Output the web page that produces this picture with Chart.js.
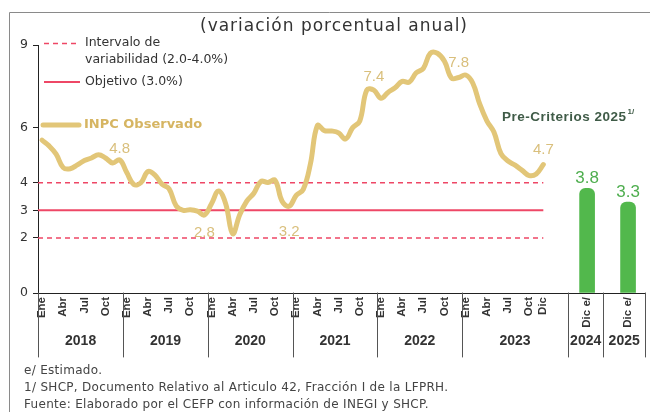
<!DOCTYPE html>
<html>
<head>
<meta charset="utf-8">
<script src="https://cdn.jsdelivr.net/npm/chart.js@4.4.1/dist/chart.umd.min.js"></script>
<style>
  html, body { margin: 0; padding: 0; background: #fff; }
  #wrap { width: 650px; height: 412px; }
</style>
</head>
<body>
<div id="wrap"><canvas id="inpc-chart"></canvas></div>
<script>
// años y meses del eje
const years = ['2018', '2019', '2020', '2021', '2022', '2023'];
const monthNames = ['Ene', 'Feb', 'Mar', 'Abr', 'May', 'Jun', 'Jul', 'Ago', 'Sep', 'Oct', 'Nov', 'Dic'];
const shownMonths = ['Ene', 'Abr', 'Jul', 'Oct'];

// INPC observado, variación anual mensual ene-2018 a dic-2023
const inpc = [
  5.55, 5.34, 5.04, 4.55, 4.51, 4.65, 4.81, 4.90, 5.02, 4.90, 4.72, 4.83,
  4.37, 3.94, 4.00, 4.41, 4.28, 3.95, 3.78, 3.16, 3.00, 3.02, 2.97, 2.83,
  3.24, 3.70, 3.25, 2.15, 2.84, 3.33, 3.62, 4.05, 4.01, 4.09, 3.33, 3.15,
  3.54, 3.76, 4.67, 6.08, 5.89, 5.88, 5.81, 5.59, 6.00, 6.24, 7.37, 7.36,
  7.07, 7.28, 7.45, 7.68, 7.65, 7.99, 8.15, 8.70, 8.70, 8.41, 7.80, 7.82,
  7.91, 7.62, 6.85, 6.25, 5.84, 5.06, 4.79, 4.64, 4.45, 4.26, 4.32, 4.66
];
// etiquetas de cierre de cada año
const decLabels = ['4.8', '2.8', '3.2', '7.4', '7.8', '4.7'];

// Pre-Criterios 2025
const forecastYears = ['2024', '2025'];
const forecastTicks = ['Dic e/', 'Dic e/'];
const forecast = [3.8, 3.3];

// objetivo e intervalo
const band = [2.0, 4.0];
const target = 3.0;
const yTicks = [0, 2, 3, 4, 6, 9];

// layout (unidades del eje x = meses)
const X_MIN = -0.57, X_MAX = 85.4;
const forecastX = [77.2, 83];
const yearEdges = [X_MIN, 11.5, 23.5, 35.5, 47.5, 59.5, 74.5, 79.5, X_MAX];
const labelDy = [-11, 18, 26, -13, -14.5, -14.5];

const lineColor = '#e2c678';
const redColor = '#ee4766';
const greenColor = '#52b84c';

// posiciones de ticks del eje x
const tickPos = [], tickText = [];
years.forEach((y, yi) => {
  monthNames.forEach((m, mi) => {
    const i = yi * 12 + mi;
    if (shownMonths.includes(m) || (yi === years.length - 1 && mi === 11)) {
      tickPos.push(i); tickText.push(m);
    }
  });
});
forecastX.forEach((x, i) => { tickPos.push(x); tickText.push(forecastTicks[i]); });

const lastX = inpc.length - 1;

const extras = {
  id: 'extras',
  afterDraw(chart) {
    const ctx = chart.ctx;
    const xs = chart.scales.x;
    const bottom = chart.chartArea.bottom;
    ctx.save();

    // marco
    ctx.strokeStyle = '#8a8a8a';
    ctx.lineWidth = 1;
    ctx.beginPath();
    ctx.moveTo(9.5, 412); ctx.lineTo(9.5, 12.5); ctx.lineTo(650, 12.5);
    ctx.stroke();

    // título
    ctx.fillStyle = '#333';
    ctx.font = '17px "DejaVu Sans"';
    ctx.letterSpacing = '1px';
    ctx.textAlign = 'center';
    ctx.textBaseline = 'middle';
    ctx.fillText('(variación porcentual anual)', 334, 27);
    ctx.letterSpacing = '0px';

    // leyenda
    ctx.textAlign = 'left';
    ctx.font = '12.5px "DejaVu Sans"';
    ctx.strokeStyle = redColor;
    ctx.lineWidth = 1.5;
    ctx.setLineDash([5, 4]);
    ctx.beginPath(); ctx.moveTo(44, 43.5); ctx.lineTo(80, 43.5); ctx.stroke();
    ctx.setLineDash([]);
    ctx.fillText('Intervalo de', 85, 43);
    ctx.fillText('variabilidad (2.0-4.0%)', 85, 60);
    ctx.lineWidth = 2;
    ctx.beginPath(); ctx.moveTo(44, 82); ctx.lineTo(80, 82); ctx.stroke();
    ctx.fillText('Objetivo (3.0%)', 85, 82);
    ctx.strokeStyle = lineColor;
    ctx.lineWidth = 5;
    ctx.lineCap = 'round';
    ctx.beginPath(); ctx.moveTo(43, 125); ctx.lineTo(79, 125); ctx.stroke();
    ctx.fillStyle = '#d6b562';
    ctx.font = 'bold 13px "DejaVu Sans"';
    ctx.fillText('INPC Observado', 84, 125);

    // etiquetas de diciembre
    const pts = chart.getDatasetMeta(0).data;
    ctx.font = '15px "Liberation Sans"';
    ctx.fillStyle = '#d9bf7c';
    ctx.textAlign = 'center';
    decLabels.forEach((t, i) => {
      const p = pts[i * 12 + 11];
      ctx.fillText(t, p.x, p.y + labelDy[i]);
    });

    // etiquetas barras
    const bars = chart.getDatasetMeta(3).data;
    ctx.font = '17px "Liberation Sans"';
    ctx.fillStyle = '#4fae4f';
    bars.forEach((b, i) => ctx.fillText(forecast[i].toFixed(1), b.x, b.y - 10));

    ctx.fillStyle = '#3f5b47';
    ctx.font = 'bold 13.5px "Liberation Sans"';
    ctx.letterSpacing = '0.5px';
    ctx.textAlign = 'left';
    const pc = 'Pre-Criterios 2025';
    ctx.fillText(pc, 502, 117);
    const pcw = ctx.measureText(pc).width;
    ctx.letterSpacing = '0px';
    ctx.font = 'bold 8px "Liberation Sans"';
    ctx.fillText('1/', 503 + pcw, 112);

    // separadores y años
    ctx.strokeStyle = '#555';
    ctx.lineWidth = 1;
    yearEdges.forEach(v => {
      const x = Math.round(xs.getPixelForValue(v)) + 0.5;
      ctx.beginPath(); ctx.moveTo(x, bottom); ctx.lineTo(x, 357); ctx.stroke();
    });
    ctx.fillStyle = '#333';
    ctx.font = 'bold 14px "Liberation Sans"';
    ctx.textAlign = 'center';
    years.concat(forecastYears).forEach((y, i) => {
      const x = (xs.getPixelForValue(yearEdges[i]) + xs.getPixelForValue(yearEdges[i + 1])) / 2;
      ctx.fillText(y, x, 341);
    });

    // notas
    ctx.textAlign = 'left';
    ctx.fillStyle = '#444';
    ctx.font = '12px "DejaVu Sans"';
    ctx.letterSpacing = '0.3px';
    ctx.fillText('e/ Estimado.', 24, 371);
    ctx.fillText('1/ SHCP, Documento Relativo al Articulo 42, Fracción I de la LFPRH.', 24, 388);
    ctx.fillText('Fuente: Elaborado por el CEFP con información de INEGI y SHCP.', 24, 405);
    ctx.restore();
  }
};

new Chart(document.getElementById('inpc-chart'), {
  data: {
    datasets: [
      {
        type: 'line',
        label: 'INPC Observado',
        data: inpc.map((v, i) => ({ x: i, y: v })),
        borderColor: lineColor,
        borderWidth: 5,
        tension: 0.4,
        pointRadius: 0,
        borderCapStyle: 'round',
      },
      {
        type: 'line',
        label: 'Objetivo',
        data: [{ x: X_MIN, y: target }, { x: lastX, y: target }],
        borderColor: redColor,
        borderWidth: 2,
        pointRadius: 0,
      },
      {
        type: 'line',
        label: 'Intervalo',
        data: [{ x: X_MIN, y: band[1] }, { x: lastX, y: band[1] }, { x: NaN, y: NaN },
               { x: X_MIN, y: band[0] }, { x: lastX, y: band[0] }],
        borderColor: redColor,
        borderWidth: 1.5,
        borderDash: [5, 4],
        pointRadius: 0,
        spanGaps: false,
      },
      {
        type: 'bar',
        label: 'Pre-Criterios 2025',
        data: forecast.map((v, i) => ({ x: forecastX[i], y: v })),
        backgroundColor: greenColor,
        barThickness: 15,
        borderRadius: { topLeft: 6, topRight: 6 },
        borderSkipped: 'bottom',
      },
    ],
  },
  options: {
    responsive: true,
    maintainAspectRatio: false,
    animation: false,
    layout: { padding: { top: 45, right: 5, left: 0, bottom: 0 } },
    plugins: { legend: { display: false }, tooltip: { enabled: false } },
    scales: {
      x: {
        type: 'linear',
        min: X_MIN,
        max: X_MAX,
        offset: false,
        afterBuildTicks: s => { s.ticks = tickPos.map(v => ({ value: v })); },
        afterFit: s => { s.height = 119; s.paddingLeft = 0; s.paddingRight = 0; },
        grid: { drawOnChartArea: false, drawTicks: false },
        border: { color: '#222', width: 1 },
        ticks: {
          autoSkip: false,
          minRotation: 90,
          maxRotation: 90,
          padding: 4,
          color: '#333',
          font: { family: 'Liberation Sans', size: 11.5, weight: 'bold' },
          callback: (v, i) => tickText[i],
        },
      },
      y: {
        min: 0,
        max: 9,
        afterBuildTicks: s => { s.ticks = yTicks.map(v => ({ value: v })); },
        afterFit: s => { s.width = 38; },
        grid: { drawOnChartArea: false, tickLength: 5, color: '#222' },
        border: { color: '#222', width: 1 },
        ticks: {
          padding: 5,
          color: '#333',
          font: { family: 'DejaVu Sans', size: 12.5 },
        },
      },
    },
  },
  plugins: [extras],
});
</script>
</body>
</html>
